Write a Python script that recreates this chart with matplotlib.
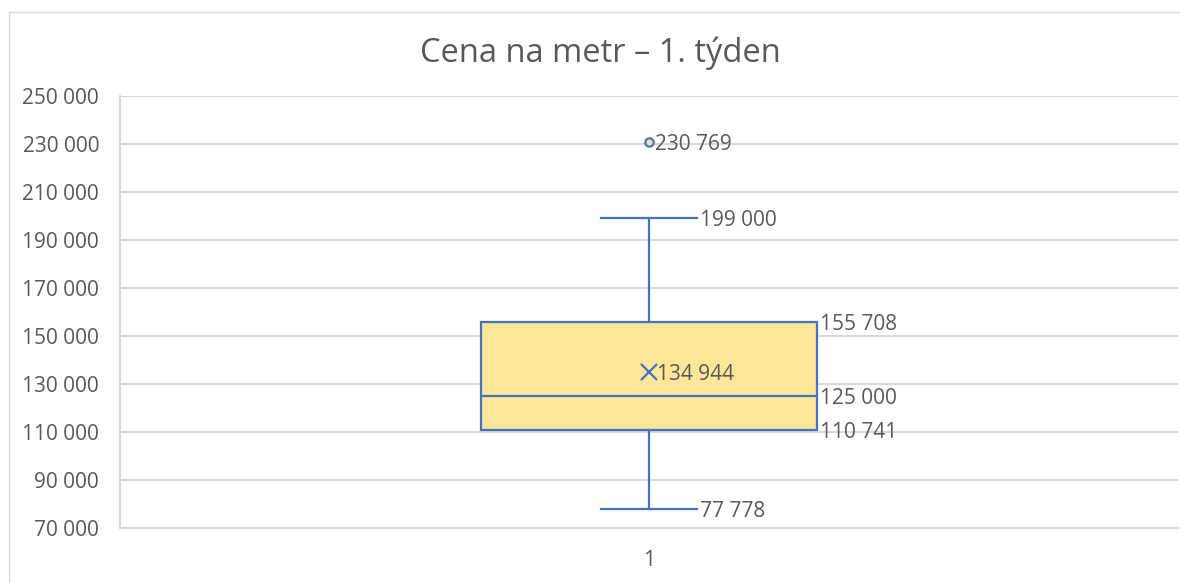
import matplotlib.pyplot as plt
from matplotlib.lines import Line2D

plt.rcParams['font.family'] = ['Open Sans', 'DejaVu Sans']

title = 'Cena na metr – 1. týden'
category = '1'
whisker_low = 77778
q1 = 110741
median = 125000
mean = 134944
q3 = 155708
whisker_high = 199000
outliers = [230769]
y_ticks = list(range(70000, 250001, 20000))

blue = '#4472C4'
fill = '#FFE699'
grey_text = '#595959'
grid_grey = '#D9D9D9'


def fmt(v):
    return f'{v:,}'.replace(',', ' ')


fig = plt.figure(figsize=(11.8, 5.83), dpi=100)
ax = fig.add_axes([120 / 1180, 55 / 583, 1058 / 1180, 432 / 583])

stats = [{
    'whislo': whisker_low, 'q1': q1, 'med': median, 'mean': mean,
    'q3': q3, 'whishi': whisker_high, 'fliers': outliers, 'label': category,
}]
box_w = 0.318
cap_w = 0.091
ax.bxp(stats, positions=[1], widths=box_w, capwidths=cap_w, showmeans=True, patch_artist=True,
       boxprops=dict(facecolor=fill, edgecolor=blue, linewidth=1.6),
       medianprops=dict(color=blue, linewidth=1.6),
       whiskerprops=dict(color=blue, linewidth=1.6),
       capprops=dict(color=blue, linewidth=1.6),
       meanprops=dict(marker='x', markeredgecolor=blue, markersize=12, markeredgewidth=1.6),
       flierprops=dict(marker='o', markerfacecolor=fill, markeredgecolor=blue, markersize=6,
                       markeredgewidth=1.6),
       zorder=3)

ax.set_xlim(0.5, 1.5)
ax.set_ylim(y_ticks[0], y_ticks[-1])
ax.set_yticks(y_ticks)
ax.set_yticklabels([fmt(v) for v in y_ticks])
ax.grid(axis='y', color=grid_grey, linewidth=1.5)
ax.set_axisbelow(True)
for side in ['top', 'right']:
    ax.spines[side].set_visible(False)
for side in ['left', 'bottom']:
    ax.spines[side].set_color(grid_grey)
    ax.spines[side].set_linewidth(1.5)
ax.tick_params(axis='both', length=0, labelsize=15, labelcolor=grey_text)
ax.tick_params(axis='y', pad=15)
ax.tick_params(axis='x', pad=16)
for t in ax.get_yticklabels():
    t.set_y(t.get_position()[1])
    t.set_va('center_baseline')

lab = dict(fontsize=15, color=grey_text, va='center_baseline', ha='left', textcoords='offset points',
           annotation_clip=False)
ax.annotate(fmt(whisker_high), (1 + cap_w / 2, whisker_high), xytext=(2, 0), **lab)
ax.annotate(fmt(whisker_low), (1 + cap_w / 2, whisker_low), xytext=(2, 0), **lab)
for v in [q3, median, q1]:
    ax.annotate(fmt(v), (1 + box_w / 2, v), xytext=(2, 0), **lab)
ax.annotate(fmt(mean), (1, mean), xytext=(6, 0), **lab)
for v in outliers:
    ax.annotate(fmt(v), (1, v), xytext=(4, 0), **lab)

fig.text(0.509, 1 - 53 / 583, title, fontsize=23.5, color=grey_text, ha='center', va='center')

fig.add_artist(Line2D([9 / 1180, 1], [1 - 12 / 583, 1 - 12 / 583], transform=fig.transFigure,
                      color=grid_grey, linewidth=1))
fig.add_artist(Line2D([9 / 1180, 9 / 1180], [0, 1 - 12 / 583], transform=fig.transFigure,
                      color=grid_grey, linewidth=1))

fig.savefig('out.png', dpi=100)
